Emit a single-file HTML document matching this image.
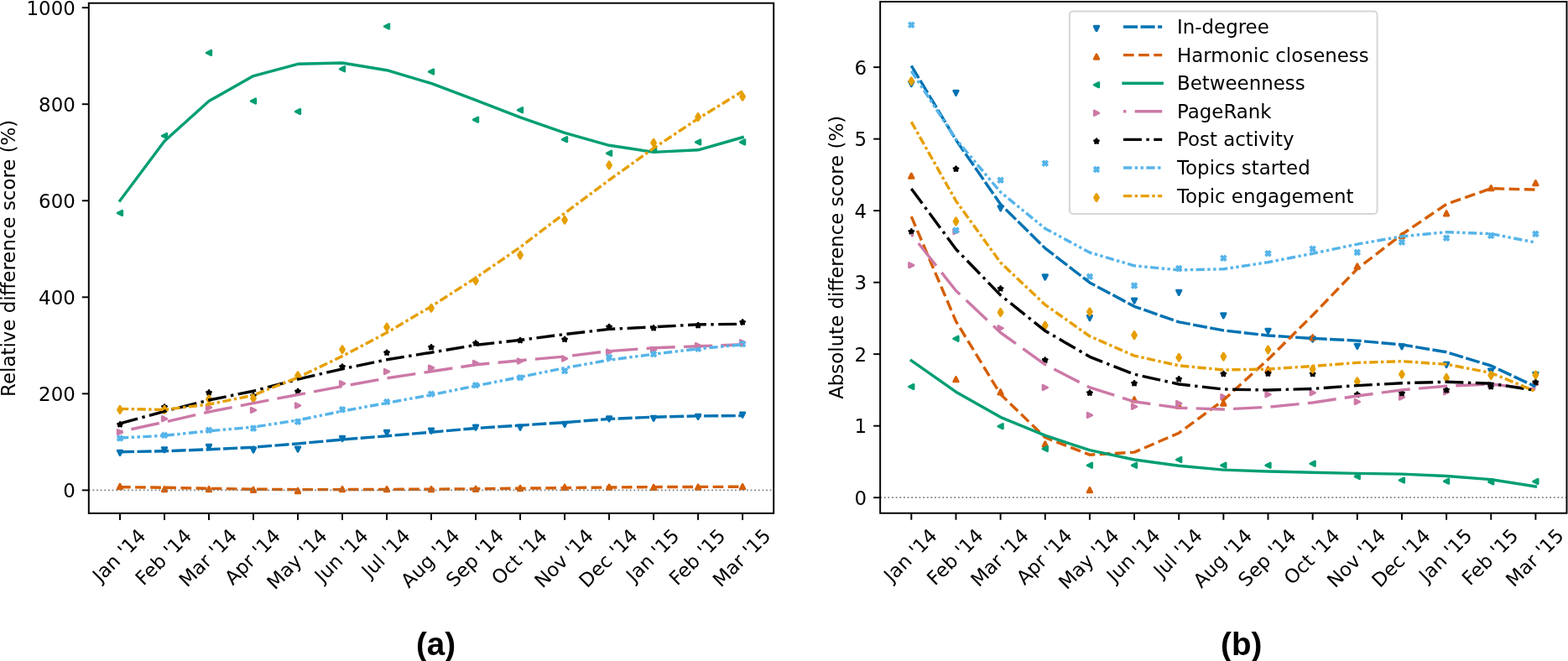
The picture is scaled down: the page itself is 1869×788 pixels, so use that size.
<!DOCTYPE html>
<html><head><meta charset="utf-8"><title>Difference scores</title>
<style>
html,body{margin:0;padding:0;background:#fff;}
svg{display:block;}
.t{font-family:"DejaVu Sans","Liberation Sans",sans-serif;font-size:22.90px;fill:#000;}
.b{font-family:"Liberation Sans",Arial,sans-serif;font-weight:bold;font-size:38.6px;fill:#000;}
</style></head><body>
<svg width="1869" height="788" viewBox="0 0 1869 788">
<rect x="0" y="0" width="1869" height="788" fill="#fff"/>
<g>
<path d="M143.00,542.65 L140.25,537.15 L145.75,537.15Z M196.01,539.05 L193.26,533.55 L198.76,533.55Z M249.01,535.65 L246.26,530.15 L251.76,530.15Z M302.02,539.25 L299.27,533.75 L304.77,533.75Z M355.03,538.35 L352.28,532.85 L357.78,532.85Z M408.03,525.75 L405.28,520.25 L410.78,520.25Z M461.04,518.75 L458.29,513.25 L463.79,513.25Z M514.05,516.45 L511.30,510.95 L516.80,510.95Z M567.06,512.45 L564.31,506.95 L569.81,506.95Z M620.06,512.45 L617.31,506.95 L622.81,506.95Z M673.07,508.65 L670.32,503.15 L675.82,503.15Z M726.08,502.15 L723.33,496.65 L728.83,496.65Z M779.08,501.55 L776.33,496.05 L781.83,496.05Z M832.09,499.65 L829.34,494.15 L834.84,494.15Z M885.10,497.45 L882.35,491.95 L887.85,491.95Z" fill="#0072B2" stroke="#0072B2" stroke-width="2.80" stroke-linejoin="round"/>
<path d="M143.00,577.25 L140.25,582.75 L145.75,582.75Z M196.01,580.35 L193.26,585.85 L198.76,585.85Z M249.01,580.35 L246.26,585.85 L251.76,585.85Z M302.02,581.05 L299.27,586.55 L304.77,586.55Z M355.03,582.25 L352.28,587.75 L357.78,587.75Z M408.03,580.35 L405.28,585.85 L410.78,585.85Z M461.04,580.35 L458.29,585.85 L463.79,585.85Z M514.05,580.35 L511.30,585.85 L516.80,585.85Z M567.06,580.05 L564.31,585.55 L569.81,585.55Z M620.06,579.25 L617.31,584.75 L622.81,584.75Z M673.07,578.05 L670.32,583.55 L675.82,583.55Z M726.08,577.95 L723.33,583.45 L728.83,583.45Z M779.08,578.15 L776.33,583.65 L781.83,583.65Z M832.09,577.85 L829.34,583.35 L834.84,583.35Z M885.10,577.45 L882.35,582.95 L887.85,582.95Z" fill="#D55E00" stroke="#D55E00" stroke-width="2.80" stroke-linejoin="round"/>
<path d="M140.25,253.90 L145.75,251.15 L145.75,256.65Z M193.26,161.90 L198.76,159.15 L198.76,164.65Z M246.26,62.90 L251.76,60.15 L251.76,65.65Z M299.27,120.50 L304.77,117.75 L304.77,123.25Z M352.28,133.00 L357.78,130.25 L357.78,135.75Z M405.28,82.30 L410.78,79.55 L410.78,85.05Z M458.29,31.40 L463.79,28.65 L463.79,34.15Z M511.30,85.60 L516.80,82.85 L516.80,88.35Z M564.31,142.70 L569.81,139.95 L569.81,145.45Z M617.31,131.30 L622.81,128.55 L622.81,134.05Z M670.32,166.30 L675.82,163.55 L675.82,169.05Z M723.33,182.70 L728.83,179.95 L728.83,185.45Z M776.33,178.80 L781.83,176.05 L781.83,181.55Z M829.34,169.40 L834.84,166.65 L834.84,172.15Z M882.35,169.40 L887.85,166.65 L887.85,172.15Z" fill="#009E73" stroke="#009E73" stroke-width="2.80" stroke-linejoin="round"/>
<path d="M145.75,515.30 L140.25,512.55 L140.25,518.05Z M198.76,499.20 L193.26,496.45 L193.26,501.95Z M251.76,485.80 L246.26,483.05 L246.26,488.55Z M304.77,488.90 L299.27,486.15 L299.27,491.65Z M357.78,483.40 L352.28,480.65 L352.28,486.15Z M410.78,457.20 L405.28,454.45 L405.28,459.95Z M463.79,442.90 L458.29,440.15 L458.29,445.65Z M516.80,438.60 L511.30,435.85 L511.30,441.35Z M569.81,433.00 L564.31,430.25 L564.31,435.75Z M622.81,430.50 L617.31,427.75 L617.31,433.25Z M675.82,427.60 L670.32,424.85 L670.32,430.35Z M728.83,419.60 L723.33,416.85 L723.33,422.35Z M781.83,416.90 L776.33,414.15 L776.33,419.65Z M834.84,412.00 L829.34,409.25 L829.34,414.75Z M887.85,408.20 L882.35,405.45 L882.35,410.95Z" fill="#CC79A7" stroke="#CC79A7" stroke-width="2.80" stroke-linejoin="round"/>
<path d="M143.00,503.50 L142.42,505.30 L140.53,505.30 L142.06,506.41 L141.47,508.20 L143.00,507.09 L144.53,508.20 L143.94,506.41 L145.47,505.30 L143.58,505.30Z M196.01,482.60 L195.42,484.40 L193.53,484.40 L195.06,485.51 L194.48,487.30 L196.01,486.19 L197.54,487.30 L196.95,485.51 L198.48,484.40 L196.59,484.40Z M249.01,465.50 L248.43,467.30 L246.54,467.30 L248.07,468.41 L247.49,470.20 L249.01,469.09 L250.54,470.20 L249.96,468.41 L251.49,467.30 L249.60,467.30Z M302.02,469.30 L301.44,471.10 L299.55,471.10 L301.08,472.21 L300.49,474.00 L302.02,472.89 L303.55,474.00 L302.97,472.21 L304.49,471.10 L302.60,471.10Z M355.03,464.00 L354.44,465.80 L352.56,465.80 L354.08,466.91 L353.50,468.70 L355.03,467.59 L356.56,468.70 L355.97,466.91 L357.50,465.80 L355.61,465.80Z M408.03,434.70 L407.45,436.50 L405.56,436.50 L407.09,437.61 L406.51,439.40 L408.03,438.29 L409.56,439.40 L408.98,437.61 L410.51,436.50 L408.62,436.50Z M461.04,417.90 L460.46,419.70 L458.57,419.70 L460.10,420.81 L459.51,422.60 L461.04,421.49 L462.57,422.60 L461.99,420.81 L463.51,419.70 L461.63,419.70Z M514.05,411.40 L513.47,413.20 L511.58,413.20 L513.10,414.31 L512.52,416.10 L514.05,414.99 L515.58,416.10 L514.99,414.31 L516.52,413.20 L514.63,413.20Z M567.06,406.60 L566.47,408.40 L564.58,408.40 L566.11,409.51 L565.53,411.30 L567.06,410.19 L568.58,411.30 L568.00,409.51 L569.53,408.40 L567.64,408.40Z M620.06,403.20 L619.48,405.00 L617.59,405.00 L619.12,406.11 L618.53,407.90 L620.06,406.79 L621.59,407.90 L621.01,406.11 L622.54,405.00 L620.65,405.00Z M673.07,402.00 L672.49,403.80 L670.60,403.80 L672.13,404.91 L671.54,406.70 L673.07,405.59 L674.60,406.70 L674.01,404.91 L675.54,403.80 L673.65,403.80Z M726.08,387.20 L725.49,389.00 L723.60,389.00 L725.13,390.11 L724.55,391.90 L726.08,390.79 L727.61,391.90 L727.02,390.11 L728.55,389.00 L726.66,389.00Z M779.08,388.50 L778.50,390.30 L776.61,390.30 L778.14,391.41 L777.56,393.20 L779.08,392.09 L780.61,393.20 L780.03,391.41 L781.56,390.30 L779.67,390.30Z M832.09,385.30 L831.51,387.10 L829.62,387.10 L831.15,388.21 L830.56,390.00 L832.09,388.89 L833.62,390.00 L833.04,388.21 L834.56,387.10 L832.67,387.10Z M885.10,381.50 L884.51,383.30 L882.63,383.30 L884.15,384.41 L883.57,386.20 L885.10,385.09 L886.63,386.20 L886.04,384.41 L887.57,383.30 L885.68,383.30Z" fill="#000000" stroke="#000000" stroke-width="2.80" stroke-linejoin="round"/>
<path d="M141.30,519.10 L143.00,520.80 L144.70,519.10 L146.40,520.80 L144.70,522.50 L146.40,524.20 L144.70,525.90 L143.00,524.20 L141.30,525.90 L139.60,524.20 L141.30,522.50 L139.60,520.80Z M194.31,515.50 L196.01,517.20 L197.71,515.50 L199.41,517.20 L197.71,518.90 L199.41,520.60 L197.71,522.30 L196.01,520.60 L194.31,522.30 L192.61,520.60 L194.31,518.90 L192.61,517.20Z M247.31,509.50 L249.01,511.20 L250.71,509.50 L252.41,511.20 L250.71,512.90 L252.41,514.60 L250.71,516.30 L249.01,514.60 L247.31,516.30 L245.61,514.60 L247.31,512.90 L245.61,511.20Z M300.32,507.20 L302.02,508.90 L303.72,507.20 L305.42,508.90 L303.72,510.60 L305.42,512.30 L303.72,514.00 L302.02,512.30 L300.32,514.00 L298.62,512.30 L300.32,510.60 L298.62,508.90Z M353.33,499.40 L355.03,501.10 L356.73,499.40 L358.43,501.10 L356.73,502.80 L358.43,504.50 L356.73,506.20 L355.03,504.50 L353.33,506.20 L351.63,504.50 L353.33,502.80 L351.63,501.10Z M406.33,484.80 L408.03,486.50 L409.73,484.80 L411.43,486.50 L409.73,488.20 L411.43,489.90 L409.73,491.60 L408.03,489.90 L406.33,491.60 L404.63,489.90 L406.33,488.20 L404.63,486.50Z M459.34,475.70 L461.04,477.40 L462.74,475.70 L464.44,477.40 L462.74,479.10 L464.44,480.80 L462.74,482.50 L461.04,480.80 L459.34,482.50 L457.64,480.80 L459.34,479.10 L457.64,477.40Z M512.35,466.30 L514.05,468.00 L515.75,466.30 L517.45,468.00 L515.75,469.70 L517.45,471.40 L515.75,473.10 L514.05,471.40 L512.35,473.10 L510.65,471.40 L512.35,469.70 L510.65,468.00Z M565.36,455.90 L567.06,457.60 L568.76,455.90 L570.46,457.60 L568.76,459.30 L570.46,461.00 L568.76,462.70 L567.06,461.00 L565.36,462.70 L563.66,461.00 L565.36,459.30 L563.66,457.60Z M618.36,446.80 L620.06,448.50 L621.76,446.80 L623.46,448.50 L621.76,450.20 L623.46,451.90 L621.76,453.60 L620.06,451.90 L618.36,453.60 L616.66,451.90 L618.36,450.20 L616.66,448.50Z M671.37,438.80 L673.07,440.50 L674.77,438.80 L676.47,440.50 L674.77,442.20 L676.47,443.90 L674.77,445.60 L673.07,443.90 L671.37,445.60 L669.67,443.90 L671.37,442.20 L669.67,440.50Z M724.38,422.60 L726.08,424.30 L727.78,422.60 L729.48,424.30 L727.78,426.00 L729.48,427.70 L727.78,429.40 L726.08,427.70 L724.38,429.40 L722.68,427.70 L724.38,426.00 L722.68,424.30Z M777.38,418.80 L779.08,420.50 L780.78,418.80 L782.48,420.50 L780.78,422.20 L782.48,423.90 L780.78,425.60 L779.08,423.90 L777.38,425.60 L775.68,423.90 L777.38,422.20 L775.68,420.50Z M830.39,412.40 L832.09,414.10 L833.79,412.40 L835.49,414.10 L833.79,415.80 L835.49,417.50 L833.79,419.20 L832.09,417.50 L830.39,419.20 L828.69,417.50 L830.39,415.80 L828.69,414.10Z M883.40,406.70 L885.10,408.40 L886.80,406.70 L888.50,408.40 L886.80,410.10 L888.50,411.80 L886.80,413.50 L885.10,411.80 L883.40,413.50 L881.70,411.80 L883.40,410.10 L881.70,408.40Z" fill="#56B4E9" stroke="#56B4E9" stroke-width="1.30" stroke-linejoin="miter"/>
<path d="M143.00,484.37 L145.42,488.40 L143.00,492.43 L140.58,488.40Z M196.01,484.37 L198.43,488.40 L196.01,492.43 L193.59,488.40Z M249.01,471.67 L251.43,475.70 L249.01,479.73 L246.60,475.70Z M302.02,470.97 L304.44,475.00 L302.02,479.03 L299.60,475.00Z M355.03,443.67 L357.45,447.70 L355.03,451.73 L352.61,447.70Z M408.03,412.67 L410.45,416.70 L408.03,420.73 L405.62,416.70Z M461.04,385.97 L463.46,390.00 L461.04,394.03 L458.62,390.00Z M514.05,363.17 L516.47,367.20 L514.05,371.23 L511.63,367.20Z M567.06,330.67 L569.47,334.70 L567.06,338.73 L564.64,334.70Z M620.06,300.07 L622.48,304.10 L620.06,308.13 L617.64,304.10Z M673.07,258.27 L675.49,262.30 L673.07,266.33 L670.65,262.30Z M726.08,192.87 L728.50,196.90 L726.08,200.93 L723.66,196.90Z M779.08,166.17 L781.50,170.20 L779.08,174.23 L776.67,170.20Z M832.09,135.57 L834.51,139.60 L832.09,143.63 L829.67,139.60Z M885.10,111.27 L887.52,115.30 L885.10,119.33 L882.68,115.30Z" fill="#E69F00" stroke="#E69F00" stroke-width="2.90" stroke-linejoin="round"/>
<polyline points="143.00,538.70 196.01,537.80 249.01,535.80 302.02,533.20 355.03,528.90 408.03,524.00 461.04,519.70 514.05,515.20 567.06,510.50 620.06,507.10 673.07,503.60 726.08,499.40 779.08,497.20 832.09,495.90 885.10,495.60" fill="none" stroke="#0072B2" stroke-width="3.42" stroke-linejoin="round" stroke-dasharray="17.10,3.42" stroke-linecap="butt"/>
<polyline points="143.00,580.60 196.01,581.30 249.01,582.30 302.02,583.20 355.03,583.60 408.03,583.60 461.04,583.40 514.05,583.20 567.06,582.80 620.06,582.20 673.07,581.60 726.08,581.00 779.08,580.60 832.09,580.40 885.10,580.30" fill="none" stroke="#D55E00" stroke-width="3.42" stroke-linejoin="round" stroke-dasharray="12.65,5.47" stroke-linecap="butt"/>
<polyline points="143.00,239.20 196.01,168.30 249.01,120.50 302.02,90.60 355.03,76.30 408.03,75.00 461.04,83.70 514.05,99.40 567.06,119.30 620.06,139.90 673.07,158.40 726.08,173.30 779.08,181.40 832.09,178.80 885.10,163.70" fill="none" stroke="#009E73" stroke-width="3.42" stroke-linejoin="round" stroke-linecap="square"/>
<polyline points="143.00,514.60 196.01,503.20 249.01,491.00 302.02,480.60 355.03,470.50 408.03,460.50 461.04,450.80 514.05,442.80 567.06,434.80 620.06,429.70 673.07,425.00 726.08,418.60 779.08,414.80 832.09,412.70 885.10,410.80" fill="none" stroke="#CC79A7" stroke-width="3.42" stroke-linejoin="round" stroke-dasharray="34.20,10.26" stroke-linecap="butt" stroke-dashoffset="30.78"/>
<polyline points="143.00,504.90 196.01,490.30 249.01,477.00 302.02,466.20 355.03,452.20 408.03,439.80 461.04,428.80 514.05,420.20 567.06,411.30 620.06,405.40 673.07,398.50 726.08,392.40 779.08,389.80 832.09,386.90 885.10,386.30" fill="none" stroke="#000000" stroke-width="3.42" stroke-linejoin="round" stroke-dasharray="21.89,5.47,3.42,5.47" stroke-linecap="butt"/>
<polyline points="143.00,522.00 196.01,519.30 249.01,513.80 302.02,509.10 355.03,500.90 408.03,490.10 461.04,480.40 514.05,470.70 567.06,460.00 620.06,449.50 673.07,438.60 726.08,429.20 779.08,422.20 832.09,415.80 885.10,410.80" fill="none" stroke="#56B4E9" stroke-width="3.42" stroke-linejoin="round" stroke-dasharray="10.26,3.42,3.42,3.42,3.42,3.42" stroke-linecap="butt"/>
<polyline points="143.00,487.40 196.01,488.40 249.01,482.00 302.02,471.20 355.03,450.00 408.03,424.60 461.04,396.60 514.05,365.30 567.06,331.20 620.06,294.70 673.07,254.20 726.08,214.60 779.08,176.70 832.09,141.40 885.10,108.80" fill="none" stroke="#E69F00" stroke-width="3.42" stroke-linejoin="round" stroke-dasharray="10.26,3.42,3.42,3.42" stroke-linecap="butt"/>
<line x1="105.80" y1="584.40" x2="922.20" y2="584.40" stroke="#808080" stroke-width="1.75" stroke-dasharray="1.75,2.89" stroke-linecap="butt"/>
<rect x="105.80" y="3.70" width="816.40" height="608.20" fill="none" stroke="#000" stroke-width="1.95" stroke-linejoin="miter"/>
<line x1="97.80" y1="584.40" x2="105.80" y2="584.40" stroke="#000" stroke-width="1.95"/>
<text x="89.80" y="592.85" text-anchor="end" class="t">0</text>
<line x1="97.80" y1="469.35" x2="105.80" y2="469.35" stroke="#000" stroke-width="1.95"/>
<text x="89.80" y="477.80" text-anchor="end" class="t">200</text>
<line x1="97.80" y1="354.30" x2="105.80" y2="354.30" stroke="#000" stroke-width="1.95"/>
<text x="89.80" y="362.75" text-anchor="end" class="t">400</text>
<line x1="97.80" y1="239.25" x2="105.80" y2="239.25" stroke="#000" stroke-width="1.95"/>
<text x="89.80" y="247.70" text-anchor="end" class="t">600</text>
<line x1="97.80" y1="124.20" x2="105.80" y2="124.20" stroke="#000" stroke-width="1.95"/>
<text x="89.80" y="132.65" text-anchor="end" class="t">800</text>
<line x1="97.80" y1="9.15" x2="105.80" y2="9.15" stroke="#000" stroke-width="1.95"/>
<text x="89.80" y="17.60" text-anchor="end" class="t">1000</text>
<line x1="143.00" y1="611.90" x2="143.00" y2="619.90" stroke="#000" stroke-width="1.95"/>
<text transform="translate(143.00,663.32) rotate(-45)" x="0" y="6.32" text-anchor="middle" class="t">Jan &#39;14</text>
<line x1="196.01" y1="611.90" x2="196.01" y2="619.90" stroke="#000" stroke-width="1.95"/>
<text transform="translate(196.01,665.17) rotate(-45)" x="0" y="6.32" text-anchor="middle" class="t">Feb &#39;14</text>
<line x1="249.01" y1="611.90" x2="249.01" y2="619.90" stroke="#000" stroke-width="1.95"/>
<text transform="translate(249.01,666.11) rotate(-45)" x="0" y="6.32" text-anchor="middle" class="t">Mar &#39;14</text>
<line x1="302.02" y1="611.90" x2="302.02" y2="619.90" stroke="#000" stroke-width="1.95"/>
<text transform="translate(302.02,664.85) rotate(-45)" x="0" y="6.32" text-anchor="middle" class="t">Apr &#39;14</text>
<line x1="355.03" y1="611.90" x2="355.03" y2="619.90" stroke="#000" stroke-width="1.95"/>
<text transform="translate(355.03,667.58) rotate(-45)" x="0" y="6.32" text-anchor="middle" class="t">May &#39;14</text>
<line x1="408.03" y1="611.90" x2="408.03" y2="619.90" stroke="#000" stroke-width="1.95"/>
<text transform="translate(408.03,663.49) rotate(-45)" x="0" y="6.32" text-anchor="middle" class="t">Jun &#39;14</text>
<line x1="461.04" y1="611.90" x2="461.04" y2="619.90" stroke="#000" stroke-width="1.95"/>
<text transform="translate(461.04,660.61) rotate(-45)" x="0" y="6.32" text-anchor="middle" class="t">Jul &#39;14</text>
<line x1="514.05" y1="611.90" x2="514.05" y2="619.90" stroke="#000" stroke-width="1.95"/>
<text transform="translate(514.05,666.65) rotate(-45)" x="0" y="6.32" text-anchor="middle" class="t">Aug &#39;14</text>
<line x1="567.06" y1="611.90" x2="567.06" y2="619.90" stroke="#000" stroke-width="1.95"/>
<text transform="translate(567.06,666.10) rotate(-45)" x="0" y="6.32" text-anchor="middle" class="t">Sep &#39;14</text>
<line x1="620.06" y1="611.90" x2="620.06" y2="619.90" stroke="#000" stroke-width="1.95"/>
<text transform="translate(620.06,664.84) rotate(-45)" x="0" y="6.32" text-anchor="middle" class="t">Oct &#39;14</text>
<line x1="673.07" y1="611.90" x2="673.07" y2="619.90" stroke="#000" stroke-width="1.95"/>
<text transform="translate(673.07,666.64) rotate(-45)" x="0" y="6.32" text-anchor="middle" class="t">Nov &#39;14</text>
<line x1="726.08" y1="611.90" x2="726.08" y2="619.90" stroke="#000" stroke-width="1.95"/>
<text transform="translate(726.08,666.51) rotate(-45)" x="0" y="6.32" text-anchor="middle" class="t">Dec &#39;14</text>
<line x1="779.08" y1="611.90" x2="779.08" y2="619.90" stroke="#000" stroke-width="1.95"/>
<text transform="translate(779.08,663.32) rotate(-45)" x="0" y="6.32" text-anchor="middle" class="t">Jan &#39;15</text>
<line x1="832.09" y1="611.90" x2="832.09" y2="619.90" stroke="#000" stroke-width="1.95"/>
<text transform="translate(832.09,665.17) rotate(-45)" x="0" y="6.32" text-anchor="middle" class="t">Feb &#39;15</text>
<line x1="885.10" y1="611.90" x2="885.10" y2="619.90" stroke="#000" stroke-width="1.95"/>
<text transform="translate(885.10,666.11) rotate(-45)" x="0" y="6.32" text-anchor="middle" class="t">Mar &#39;15</text>
<text transform="translate(17.80,307.80) rotate(-90)" x="0" y="0" text-anchor="middle" class="t">Relative difference score (%)</text>
</g>
<g>
<path d="M1086.30,102.75 L1083.55,97.25 L1089.05,97.25Z M1139.45,113.65 L1136.70,108.15 L1142.20,108.15Z M1192.60,251.15 L1189.85,245.65 L1195.35,245.65Z M1245.75,333.25 L1243.00,327.75 L1248.50,327.75Z M1298.90,381.85 L1296.15,376.35 L1301.65,376.35Z M1352.05,361.35 L1349.30,355.85 L1354.80,355.85Z M1405.20,351.65 L1402.45,346.15 L1407.95,346.15Z M1458.35,379.05 L1455.60,373.55 L1461.10,373.55Z M1511.50,397.65 L1508.75,392.15 L1514.25,392.15Z M1564.65,407.25 L1561.90,401.75 L1567.40,401.75Z M1617.80,415.65 L1615.05,410.15 L1620.55,410.15Z M1670.95,416.05 L1668.20,410.55 L1673.70,410.55Z M1724.10,437.75 L1721.35,432.25 L1726.85,432.25Z M1777.25,445.35 L1774.50,439.85 L1780.00,439.85Z M1830.40,449.75 L1827.65,444.25 L1833.15,444.25Z" fill="#0072B2" stroke="#0072B2" stroke-width="2.80" stroke-linejoin="round"/>
<path d="M1086.30,206.95 L1083.55,212.45 L1089.05,212.45Z M1139.45,449.45 L1136.70,454.95 L1142.20,454.95Z M1192.60,464.55 L1189.85,470.05 L1195.35,470.05Z M1245.75,526.65 L1243.00,532.15 L1248.50,532.15Z M1298.90,581.45 L1296.15,586.95 L1301.65,586.95Z M1352.05,473.55 L1349.30,479.05 L1354.80,479.05Z M1405.20,481.05 L1402.45,486.55 L1407.95,486.55Z M1458.35,477.75 L1455.60,483.25 L1461.10,483.25Z M1511.50,437.75 L1508.75,443.25 L1514.25,443.25Z M1564.65,399.55 L1561.90,405.05 L1567.40,405.05Z M1617.80,314.75 L1615.05,320.25 L1620.55,320.25Z M1670.95,278.25 L1668.20,283.75 L1673.70,283.75Z M1724.10,251.55 L1721.35,257.05 L1726.85,257.05Z M1777.25,221.45 L1774.50,226.95 L1780.00,226.95Z M1830.40,215.45 L1827.65,220.95 L1833.15,220.95Z" fill="#D55E00" stroke="#D55E00" stroke-width="2.80" stroke-linejoin="round"/>
<path d="M1083.55,461.10 L1089.05,458.35 L1089.05,463.85Z M1136.70,403.80 L1142.20,401.05 L1142.20,406.55Z M1189.85,508.20 L1195.35,505.45 L1195.35,510.95Z M1243.00,535.00 L1248.50,532.25 L1248.50,537.75Z M1296.15,554.80 L1301.65,552.05 L1301.65,557.55Z M1349.30,554.80 L1354.80,552.05 L1354.80,557.55Z M1402.45,548.00 L1407.95,545.25 L1407.95,550.75Z M1455.60,554.80 L1461.10,552.05 L1461.10,557.55Z M1508.75,554.80 L1514.25,552.05 L1514.25,557.55Z M1561.90,552.80 L1567.40,550.05 L1567.40,555.55Z M1615.05,568.10 L1620.55,565.35 L1620.55,570.85Z M1668.20,572.60 L1673.70,569.85 L1673.70,575.35Z M1721.35,573.70 L1726.85,570.95 L1726.85,576.45Z M1774.50,574.40 L1780.00,571.65 L1780.00,577.15Z M1827.65,574.00 L1833.15,571.25 L1833.15,576.75Z" fill="#009E73" stroke="#009E73" stroke-width="2.80" stroke-linejoin="round"/>
<path d="M1089.05,316.20 L1083.55,313.45 L1083.55,318.95Z M1142.20,276.00 L1136.70,273.25 L1136.70,278.75Z M1195.35,391.20 L1189.85,388.45 L1189.85,393.95Z M1248.50,462.00 L1243.00,459.25 L1243.00,464.75Z M1301.65,494.90 L1296.15,492.15 L1296.15,497.65Z M1354.80,484.80 L1349.30,482.05 L1349.30,487.55Z M1407.95,481.00 L1402.45,478.25 L1402.45,483.75Z M1461.10,473.30 L1455.60,470.55 L1455.60,476.05Z M1514.25,470.30 L1508.75,467.55 L1508.75,473.05Z M1567.40,468.20 L1561.90,465.45 L1561.90,470.95Z M1620.55,478.90 L1615.05,476.15 L1615.05,481.65Z M1673.70,473.60 L1668.20,470.85 L1668.20,476.35Z M1726.85,467.30 L1721.35,464.55 L1721.35,470.05Z M1780.00,459.00 L1774.50,456.25 L1774.50,461.75Z M1833.15,458.00 L1827.65,455.25 L1827.65,460.75Z" fill="#CC79A7" stroke="#CC79A7" stroke-width="2.80" stroke-linejoin="round"/>
<path d="M1086.30,273.50 L1085.72,275.30 L1083.83,275.30 L1085.36,276.41 L1084.77,278.20 L1086.30,277.09 L1087.83,278.20 L1087.24,276.41 L1088.77,275.30 L1086.88,275.30Z M1139.45,198.80 L1138.87,200.60 L1136.98,200.60 L1138.51,201.71 L1137.92,203.50 L1139.45,202.39 L1140.98,203.50 L1140.39,201.71 L1141.92,200.60 L1140.03,200.60Z M1192.60,341.50 L1192.02,343.30 L1190.13,343.30 L1191.66,344.41 L1191.07,346.20 L1192.60,345.09 L1194.13,346.20 L1193.54,344.41 L1195.07,343.30 L1193.18,343.30Z M1245.75,426.70 L1245.17,428.50 L1243.28,428.50 L1244.81,429.61 L1244.22,431.40 L1245.75,430.29 L1247.28,431.40 L1246.69,429.61 L1248.22,428.50 L1246.33,428.50Z M1298.90,465.80 L1298.32,467.60 L1296.43,467.60 L1297.96,468.71 L1297.37,470.50 L1298.90,469.39 L1300.43,470.50 L1299.84,468.71 L1301.37,467.60 L1299.48,467.60Z M1352.05,454.40 L1351.47,456.20 L1349.58,456.20 L1351.11,457.31 L1350.52,459.10 L1352.05,457.99 L1353.58,459.10 L1352.99,457.31 L1354.52,456.20 L1352.63,456.20Z M1405.20,449.40 L1404.62,451.20 L1402.73,451.20 L1404.26,452.31 L1403.67,454.10 L1405.20,452.99 L1406.73,454.10 L1406.14,452.31 L1407.67,451.20 L1405.78,451.20Z M1458.35,443.20 L1457.77,445.00 L1455.88,445.00 L1457.41,446.11 L1456.82,447.90 L1458.35,446.79 L1459.88,447.90 L1459.29,446.11 L1460.82,445.00 L1458.93,445.00Z M1511.50,442.80 L1510.92,444.60 L1509.03,444.60 L1510.56,445.71 L1509.97,447.50 L1511.50,446.39 L1513.03,447.50 L1512.44,445.71 L1513.97,444.60 L1512.08,444.60Z M1564.65,443.20 L1564.07,445.00 L1562.18,445.00 L1563.71,446.11 L1563.12,447.90 L1564.65,446.79 L1566.18,447.90 L1565.59,446.11 L1567.12,445.00 L1565.23,445.00Z M1617.80,467.80 L1617.22,469.60 L1615.33,469.60 L1616.86,470.71 L1616.27,472.50 L1617.80,471.39 L1619.33,472.50 L1618.74,470.71 L1620.27,469.60 L1618.38,469.60Z M1670.95,466.20 L1670.37,468.00 L1668.48,468.00 L1670.01,469.11 L1669.42,470.90 L1670.95,469.79 L1672.48,470.90 L1671.89,469.11 L1673.42,468.00 L1671.53,468.00Z M1724.10,462.30 L1723.52,464.10 L1721.63,464.10 L1723.16,465.21 L1722.57,467.00 L1724.10,465.89 L1725.63,467.00 L1725.04,465.21 L1726.57,464.10 L1724.68,464.10Z M1777.25,458.30 L1776.67,460.10 L1774.78,460.10 L1776.31,461.21 L1775.72,463.00 L1777.25,461.89 L1778.78,463.00 L1778.19,461.21 L1779.72,460.10 L1777.83,460.10Z M1830.40,453.20 L1829.82,455.00 L1827.93,455.00 L1829.46,456.11 L1828.87,457.90 L1830.40,456.79 L1831.93,457.90 L1831.34,456.11 L1832.87,455.00 L1830.98,455.00Z" fill="#000000" stroke="#000000" stroke-width="2.80" stroke-linejoin="round"/>
<path d="M1084.60,26.30 L1086.30,28.00 L1088.00,26.30 L1089.70,28.00 L1088.00,29.70 L1089.70,31.40 L1088.00,33.10 L1086.30,31.40 L1084.60,33.10 L1082.90,31.40 L1084.60,29.70 L1082.90,28.00Z M1137.75,271.20 L1139.45,272.90 L1141.15,271.20 L1142.85,272.90 L1141.15,274.60 L1142.85,276.30 L1141.15,278.00 L1139.45,276.30 L1137.75,278.00 L1136.05,276.30 L1137.75,274.60 L1136.05,272.90Z M1190.90,211.40 L1192.60,213.10 L1194.30,211.40 L1196.00,213.10 L1194.30,214.80 L1196.00,216.50 L1194.30,218.20 L1192.60,216.50 L1190.90,218.20 L1189.20,216.50 L1190.90,214.80 L1189.20,213.10Z M1244.05,191.30 L1245.75,193.00 L1247.45,191.30 L1249.15,193.00 L1247.45,194.70 L1249.15,196.40 L1247.45,198.10 L1245.75,196.40 L1244.05,198.10 L1242.35,196.40 L1244.05,194.70 L1242.35,193.00Z M1297.20,326.30 L1298.90,328.00 L1300.60,326.30 L1302.30,328.00 L1300.60,329.70 L1302.30,331.40 L1300.60,333.10 L1298.90,331.40 L1297.20,333.10 L1295.50,331.40 L1297.20,329.70 L1295.50,328.00Z M1350.35,337.10 L1352.05,338.80 L1353.75,337.10 L1355.45,338.80 L1353.75,340.50 L1355.45,342.20 L1353.75,343.90 L1352.05,342.20 L1350.35,343.90 L1348.65,342.20 L1350.35,340.50 L1348.65,338.80Z M1403.50,316.60 L1405.20,318.30 L1406.90,316.60 L1408.60,318.30 L1406.90,320.00 L1408.60,321.70 L1406.90,323.40 L1405.20,321.70 L1403.50,323.40 L1401.80,321.70 L1403.50,320.00 L1401.80,318.30Z M1456.65,304.40 L1458.35,306.10 L1460.05,304.40 L1461.75,306.10 L1460.05,307.80 L1461.75,309.50 L1460.05,311.20 L1458.35,309.50 L1456.65,311.20 L1454.95,309.50 L1456.65,307.80 L1454.95,306.10Z M1509.80,298.80 L1511.50,300.50 L1513.20,298.80 L1514.90,300.50 L1513.20,302.20 L1514.90,303.90 L1513.20,305.60 L1511.50,303.90 L1509.80,305.60 L1508.10,303.90 L1509.80,302.20 L1508.10,300.50Z M1562.95,293.30 L1564.65,295.00 L1566.35,293.30 L1568.05,295.00 L1566.35,296.70 L1568.05,298.40 L1566.35,300.10 L1564.65,298.40 L1562.95,300.10 L1561.25,298.40 L1562.95,296.70 L1561.25,295.00Z M1616.10,297.50 L1617.80,299.20 L1619.50,297.50 L1621.20,299.20 L1619.50,300.90 L1621.20,302.60 L1619.50,304.30 L1617.80,302.60 L1616.10,304.30 L1614.40,302.60 L1616.10,300.90 L1614.40,299.20Z M1669.25,285.30 L1670.95,287.00 L1672.65,285.30 L1674.35,287.00 L1672.65,288.70 L1674.35,290.40 L1672.65,292.10 L1670.95,290.40 L1669.25,292.10 L1667.55,290.40 L1669.25,288.70 L1667.55,287.00Z M1722.40,280.30 L1724.10,282.00 L1725.80,280.30 L1727.50,282.00 L1725.80,283.70 L1727.50,285.40 L1725.80,287.10 L1724.10,285.40 L1722.40,287.10 L1720.70,285.40 L1722.40,283.70 L1720.70,282.00Z M1775.55,277.50 L1777.25,279.20 L1778.95,277.50 L1780.65,279.20 L1778.95,280.90 L1780.65,282.60 L1778.95,284.30 L1777.25,282.60 L1775.55,284.30 L1773.85,282.60 L1775.55,280.90 L1773.85,279.20Z M1828.70,275.50 L1830.40,277.20 L1832.10,275.50 L1833.80,277.20 L1832.10,278.90 L1833.80,280.60 L1832.10,282.30 L1830.40,280.60 L1828.70,282.30 L1827.00,280.60 L1828.70,278.90 L1827.00,277.20Z" fill="#56B4E9" stroke="#56B4E9" stroke-width="1.30" stroke-linejoin="miter"/>
<path d="M1086.30,92.77 L1088.72,96.80 L1086.30,100.83 L1083.88,96.80Z M1139.45,259.87 L1141.87,263.90 L1139.45,267.93 L1137.03,263.90Z M1192.60,368.37 L1195.02,372.40 L1192.60,376.43 L1190.18,372.40Z M1245.75,383.97 L1248.17,388.00 L1245.75,392.03 L1243.33,388.00Z M1298.90,367.77 L1301.32,371.80 L1298.90,375.83 L1296.48,371.80Z M1352.05,395.57 L1354.47,399.60 L1352.05,403.63 L1349.63,399.60Z M1405.20,422.17 L1407.62,426.20 L1405.20,430.23 L1402.78,426.20Z M1458.35,421.07 L1460.77,425.10 L1458.35,429.13 L1455.93,425.10Z M1511.50,412.87 L1513.92,416.90 L1511.50,420.93 L1509.08,416.90Z M1564.65,435.97 L1567.07,440.00 L1564.65,444.03 L1562.23,440.00Z M1617.80,450.67 L1620.22,454.70 L1617.80,458.73 L1615.38,454.70Z M1670.95,442.27 L1673.37,446.30 L1670.95,450.33 L1668.53,446.30Z M1724.10,446.37 L1726.52,450.40 L1724.10,454.43 L1721.68,450.40Z M1777.25,443.37 L1779.67,447.40 L1777.25,451.43 L1774.83,447.40Z M1830.40,442.97 L1832.82,447.00 L1830.40,451.03 L1827.98,447.00Z" fill="#E69F00" stroke="#E69F00" stroke-width="2.90" stroke-linejoin="round"/>
<polyline points="1086.30,78.40 1139.45,166.80 1192.60,243.50 1245.75,295.90 1298.90,336.90 1352.05,365.30 1405.20,383.90 1458.35,393.90 1511.50,400.00 1564.65,403.40 1617.80,406.10 1670.95,410.90 1724.10,419.80 1777.25,436.00 1830.40,461.00" fill="none" stroke="#0072B2" stroke-width="3.42" stroke-linejoin="round" stroke-dasharray="17.10,3.42" stroke-linecap="butt"/>
<polyline points="1086.30,258.20 1139.45,383.00 1192.60,470.00 1245.75,521.50 1298.90,542.20 1352.05,539.10 1405.20,516.20 1458.35,477.00 1511.50,428.50 1564.65,375.80 1617.80,320.50 1670.95,279.50 1724.10,243.40 1777.25,224.70 1830.40,226.10" fill="none" stroke="#D55E00" stroke-width="3.42" stroke-linejoin="round" stroke-dasharray="12.65,5.47" stroke-linecap="butt"/>
<polyline points="1086.30,429.80 1139.45,467.20 1192.60,497.30 1245.75,519.20 1298.90,536.70 1352.05,548.00 1405.20,555.20 1458.35,560.10 1511.50,562.00 1564.65,563.20 1617.80,564.40 1670.95,565.10 1724.10,567.50 1777.25,571.60 1830.40,580.00" fill="none" stroke="#009E73" stroke-width="3.42" stroke-linejoin="round" stroke-linecap="square"/>
<polyline points="1086.30,279.20 1139.45,346.50 1192.60,396.50 1245.75,434.60 1298.90,461.90 1352.05,478.80 1405.20,486.20 1458.35,488.00 1511.50,485.30 1564.65,480.00 1617.80,472.00 1670.95,464.90 1724.10,460.30 1777.25,458.00 1830.40,464.00" fill="none" stroke="#CC79A7" stroke-width="3.42" stroke-linejoin="round" stroke-dasharray="34.20,10.26" stroke-linecap="butt" stroke-dashoffset="30.78"/>
<polyline points="1086.30,224.90 1139.45,297.00 1192.60,351.90 1245.75,394.40 1298.90,425.30 1352.05,446.20 1405.20,458.00 1458.35,464.00 1511.50,465.00 1564.65,463.40 1617.80,459.60 1670.95,456.70 1724.10,455.30 1777.25,457.20 1830.40,465.40" fill="none" stroke="#000000" stroke-width="3.42" stroke-linejoin="round" stroke-dasharray="21.89,5.47,3.42,5.47" stroke-linecap="butt"/>
<polyline points="1086.30,84.70 1139.45,166.00 1192.60,229.00 1245.75,272.40 1298.90,301.00 1352.05,316.80 1405.20,321.90 1458.35,320.80 1511.50,312.60 1564.65,302.20 1617.80,291.10 1670.95,281.80 1724.10,276.70 1777.25,278.70 1830.40,289.10" fill="none" stroke="#56B4E9" stroke-width="3.42" stroke-linejoin="round" stroke-dasharray="10.26,3.42,3.42,3.42,3.42,3.42" stroke-linecap="butt"/>
<polyline points="1086.30,145.30 1139.45,239.50 1192.60,313.00 1245.75,363.30 1298.90,400.80 1352.05,424.10 1405.20,435.80 1458.35,441.00 1511.50,440.00 1564.65,436.50 1617.80,432.40 1670.95,430.70 1724.10,434.30 1777.25,444.50 1830.40,466.60" fill="none" stroke="#E69F00" stroke-width="3.42" stroke-linejoin="round" stroke-dasharray="10.26,3.42,3.42,3.42" stroke-linecap="butt"/>
<line x1="1049.15" y1="593.20" x2="1867.50" y2="593.20" stroke="#808080" stroke-width="1.75" stroke-dasharray="1.75,2.89" stroke-linecap="butt"/>
<rect x="1049.15" y="2.00" width="818.35" height="609.75" fill="none" stroke="#000" stroke-width="1.95" stroke-linejoin="miter"/>
<line x1="1041.15" y1="593.20" x2="1049.15" y2="593.20" stroke="#000" stroke-width="1.95"/>
<text x="1033.15" y="601.80" text-anchor="end" class="t">0</text>
<line x1="1041.15" y1="507.69" x2="1049.15" y2="507.69" stroke="#000" stroke-width="1.95"/>
<text x="1033.15" y="516.29" text-anchor="end" class="t">1</text>
<line x1="1041.15" y1="422.18" x2="1049.15" y2="422.18" stroke="#000" stroke-width="1.95"/>
<text x="1033.15" y="430.78" text-anchor="end" class="t">2</text>
<line x1="1041.15" y1="336.67" x2="1049.15" y2="336.67" stroke="#000" stroke-width="1.95"/>
<text x="1033.15" y="345.27" text-anchor="end" class="t">3</text>
<line x1="1041.15" y1="251.16" x2="1049.15" y2="251.16" stroke="#000" stroke-width="1.95"/>
<text x="1033.15" y="259.76" text-anchor="end" class="t">4</text>
<line x1="1041.15" y1="165.65" x2="1049.15" y2="165.65" stroke="#000" stroke-width="1.95"/>
<text x="1033.15" y="174.25" text-anchor="end" class="t">5</text>
<line x1="1041.15" y1="80.14" x2="1049.15" y2="80.14" stroke="#000" stroke-width="1.95"/>
<text x="1033.15" y="88.74" text-anchor="end" class="t">6</text>
<line x1="1086.30" y1="611.75" x2="1086.30" y2="619.75" stroke="#000" stroke-width="1.95"/>
<text transform="translate(1086.30,663.17) rotate(-45)" x="0" y="6.32" text-anchor="middle" class="t">Jan &#39;14</text>
<line x1="1139.45" y1="611.75" x2="1139.45" y2="619.75" stroke="#000" stroke-width="1.95"/>
<text transform="translate(1139.45,665.02) rotate(-45)" x="0" y="6.32" text-anchor="middle" class="t">Feb &#39;14</text>
<line x1="1192.60" y1="611.75" x2="1192.60" y2="619.75" stroke="#000" stroke-width="1.95"/>
<text transform="translate(1192.60,665.96) rotate(-45)" x="0" y="6.32" text-anchor="middle" class="t">Mar &#39;14</text>
<line x1="1245.75" y1="611.75" x2="1245.75" y2="619.75" stroke="#000" stroke-width="1.95"/>
<text transform="translate(1245.75,664.70) rotate(-45)" x="0" y="6.32" text-anchor="middle" class="t">Apr &#39;14</text>
<line x1="1298.90" y1="611.75" x2="1298.90" y2="619.75" stroke="#000" stroke-width="1.95"/>
<text transform="translate(1298.90,667.43) rotate(-45)" x="0" y="6.32" text-anchor="middle" class="t">May &#39;14</text>
<line x1="1352.05" y1="611.75" x2="1352.05" y2="619.75" stroke="#000" stroke-width="1.95"/>
<text transform="translate(1352.05,663.34) rotate(-45)" x="0" y="6.32" text-anchor="middle" class="t">Jun &#39;14</text>
<line x1="1405.20" y1="611.75" x2="1405.20" y2="619.75" stroke="#000" stroke-width="1.95"/>
<text transform="translate(1405.20,660.46) rotate(-45)" x="0" y="6.32" text-anchor="middle" class="t">Jul &#39;14</text>
<line x1="1458.35" y1="611.75" x2="1458.35" y2="619.75" stroke="#000" stroke-width="1.95"/>
<text transform="translate(1458.35,666.50) rotate(-45)" x="0" y="6.32" text-anchor="middle" class="t">Aug &#39;14</text>
<line x1="1511.50" y1="611.75" x2="1511.50" y2="619.75" stroke="#000" stroke-width="1.95"/>
<text transform="translate(1511.50,665.95) rotate(-45)" x="0" y="6.32" text-anchor="middle" class="t">Sep &#39;14</text>
<line x1="1564.65" y1="611.75" x2="1564.65" y2="619.75" stroke="#000" stroke-width="1.95"/>
<text transform="translate(1564.65,664.69) rotate(-45)" x="0" y="6.32" text-anchor="middle" class="t">Oct &#39;14</text>
<line x1="1617.80" y1="611.75" x2="1617.80" y2="619.75" stroke="#000" stroke-width="1.95"/>
<text transform="translate(1617.80,666.49) rotate(-45)" x="0" y="6.32" text-anchor="middle" class="t">Nov &#39;14</text>
<line x1="1670.95" y1="611.75" x2="1670.95" y2="619.75" stroke="#000" stroke-width="1.95"/>
<text transform="translate(1670.95,666.36) rotate(-45)" x="0" y="6.32" text-anchor="middle" class="t">Dec &#39;14</text>
<line x1="1724.10" y1="611.75" x2="1724.10" y2="619.75" stroke="#000" stroke-width="1.95"/>
<text transform="translate(1724.10,663.17) rotate(-45)" x="0" y="6.32" text-anchor="middle" class="t">Jan &#39;15</text>
<line x1="1777.25" y1="611.75" x2="1777.25" y2="619.75" stroke="#000" stroke-width="1.95"/>
<text transform="translate(1777.25,665.02) rotate(-45)" x="0" y="6.32" text-anchor="middle" class="t">Feb &#39;15</text>
<line x1="1830.40" y1="611.75" x2="1830.40" y2="619.75" stroke="#000" stroke-width="1.95"/>
<text transform="translate(1830.40,665.96) rotate(-45)" x="0" y="6.32" text-anchor="middle" class="t">Mar &#39;15</text>
<text transform="translate(1004.75,306.88) rotate(-90)" x="0" y="0" text-anchor="middle" class="t">Absolute difference score (%)</text>
</g>
<rect x="1274.90" y="13.50" width="366.70" height="241.50" rx="4" ry="4" fill="#fff" fill-opacity="0.8" stroke="#d6d6d6" stroke-width="2.0"/>
<path d="M1307.00,36.75 L1304.25,31.25 L1309.75,31.25Z" fill="#0072B2" stroke="#0072B2" stroke-width="2.80" stroke-linejoin="round"/>
<line x1="1339.0" y1="32.00" x2="1385.2" y2="32.00" stroke="#0072B2" stroke-width="3.42" stroke-dasharray="17.10,3.42" stroke-linecap="butt"/>
<text x="1403.0" y="39.90" class="t">In-degree</text>
<path d="M1307.00,64.85 L1304.25,70.35 L1309.75,70.35Z" fill="#D55E00" stroke="#D55E00" stroke-width="2.80" stroke-linejoin="round"/>
<line x1="1339.0" y1="65.60" x2="1385.2" y2="65.60" stroke="#D55E00" stroke-width="3.42" stroke-dasharray="12.65,5.47" stroke-linecap="butt"/>
<text x="1403.0" y="73.50" class="t">Harmonic closeness</text>
<path d="M1304.25,101.20 L1309.75,98.45 L1309.75,103.95Z" fill="#009E73" stroke="#009E73" stroke-width="2.80" stroke-linejoin="round"/>
<line x1="1339.0" y1="99.20" x2="1385.2" y2="99.20" stroke="#009E73" stroke-width="3.42" stroke-linecap="square"/>
<text x="1403.0" y="107.10" class="t">Betweenness</text>
<path d="M1309.75,134.80 L1304.25,132.05 L1304.25,137.55Z" fill="#CC79A7" stroke="#CC79A7" stroke-width="2.80" stroke-linejoin="round"/>
<line x1="1339.0" y1="132.80" x2="1385.2" y2="132.80" stroke="#CC79A7" stroke-width="3.42" stroke-dasharray="34.20,10.26" stroke-linecap="butt" stroke-dashoffset="30.78"/>
<text x="1403.0" y="140.70" class="t">PageRank</text>
<path d="M1307.00,165.80 L1306.42,167.60 L1304.53,167.60 L1306.06,168.71 L1305.47,170.50 L1307.00,169.39 L1308.53,170.50 L1307.94,168.71 L1309.47,167.60 L1307.58,167.60Z" fill="#000000" stroke="#000000" stroke-width="2.80" stroke-linejoin="round"/>
<line x1="1339.0" y1="166.40" x2="1385.2" y2="166.40" stroke="#000000" stroke-width="3.42" stroke-dasharray="21.89,5.47,3.42,5.47" stroke-linecap="butt"/>
<text x="1403.0" y="174.30" class="t">Post activity</text>
<path d="M1305.30,198.60 L1307.00,200.30 L1308.70,198.60 L1310.40,200.30 L1308.70,202.00 L1310.40,203.70 L1308.70,205.40 L1307.00,203.70 L1305.30,205.40 L1303.60,203.70 L1305.30,202.00 L1303.60,200.30Z" fill="#56B4E9" stroke="#56B4E9" stroke-width="1.30" stroke-linejoin="miter"/>
<line x1="1339.0" y1="200.00" x2="1385.2" y2="200.00" stroke="#56B4E9" stroke-width="3.42" stroke-dasharray="10.26,3.42,3.42,3.42,3.42,3.42" stroke-linecap="butt"/>
<text x="1403.0" y="207.90" class="t">Topics started</text>
<path d="M1307.00,231.57 L1309.42,235.60 L1307.00,239.63 L1304.58,235.60Z" fill="#E69F00" stroke="#E69F00" stroke-width="2.90" stroke-linejoin="round"/>
<line x1="1339.0" y1="233.60" x2="1385.2" y2="233.60" stroke="#E69F00" stroke-width="3.42" stroke-dasharray="10.26,3.42,3.42,3.42" stroke-linecap="butt"/>
<text x="1403.0" y="241.50" class="t">Topic engagement</text>
<text x="519.6" y="780.8" text-anchor="middle" class="b">(a)</text>
<text x="1479.7" y="780.8" text-anchor="middle" class="b">(b)</text>
</svg>
</body></html>
